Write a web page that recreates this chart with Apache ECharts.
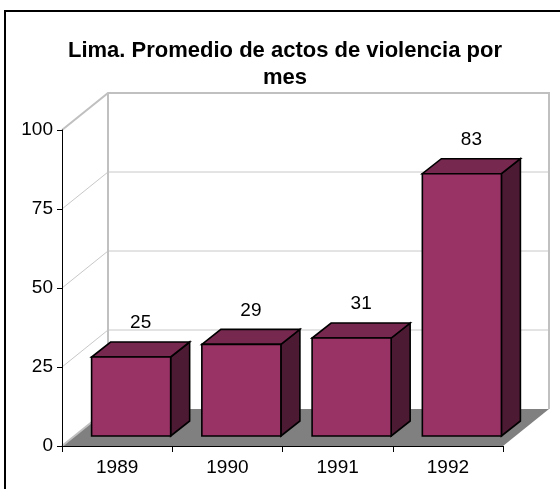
<!DOCTYPE html>
<html>
<head>
<meta charset="utf-8">
<title>Lima. Promedio de actos de violencia por mes</title>
<script src="https://cdn.jsdelivr.net/npm/echarts@6/dist/echarts.min.js"></script>
<style>
  html, body { margin: 0; padding: 0; background: #fff; }
  #chart { width: 560px; height: 489px; }
</style>
</head>
<body>
<div id="chart"></div>
<script>
  // datos
  var years = ['1989', '1990', '1991', '1992'];
  var promedio = [25, 29, 31, 83];
  var yTicks = [0, 25, 50, 75, 100];

  var FONT = "'Liberation Sans', Arial, sans-serif";

  // perspectiva (pared del fondo) y geometria de las barras
  var DEPTH_X = 46, DEPTH_Y = 37;
  var BAR_OFF_X = 14, BAR_OFF_Y = 10;
  var BAR_DX = 19, BAR_DY = 15;
  var BAR_RATIO = 0.717;

  var chart = echarts.init(document.getElementById('chart'));

  // paredes, piso y lineas de division
  function renderWalls(params, api) {
    var cs = params.coordSys;
    var x0 = cs.x, x1 = cs.x + cs.width;
    var yTop = cs.y, yBot = cs.y + cs.height;
    var children = [];
    // pared izquierda y del fondo (blancas)
    children.push({
      type: 'polygon',
      shape: { points: [[x0, yTop], [x0 + DEPTH_X, yTop - DEPTH_Y], [x0 + DEPTH_X, yBot - DEPTH_Y], [x0, yBot]] },
      style: { fill: '#fff' }
    });
    // lineas de division
    yTicks.forEach(function (v) {
      if (v === 0 || v === 100) return;
      var y = api.coord([0, v])[1];
      children.push({
        type: 'polyline',
        shape: { points: [[x0, y], [x0 + DEPTH_X, y - DEPTH_Y], [x1 + DEPTH_X, y - DEPTH_Y]] },
        style: { stroke: '#c8c8c8', lineWidth: 1, fill: null }
      });
    });
    // borde de las paredes
    children.push({
      type: 'polyline',
      shape: { points: [[x0, yTop], [x0 + DEPTH_X, yTop - DEPTH_Y], [x1 + DEPTH_X, yTop - DEPTH_Y], [x1 + DEPTH_X, yBot - DEPTH_Y]] },
      style: { stroke: '#c0c0c0', lineWidth: 2, fill: null }
    });
    children.push({
      type: 'line',
      shape: { x1: x0 + DEPTH_X, y1: yTop - DEPTH_Y, x2: x0 + DEPTH_X, y2: yBot - DEPTH_Y },
      style: { stroke: '#c0c0c0', lineWidth: 2 }
    });
    // piso
    children.push({
      type: 'polygon',
      shape: { points: [[x0, yBot], [x0 + DEPTH_X, yBot - DEPTH_Y], [x1 + DEPTH_X, yBot - DEPTH_Y], [x1, yBot]] },
      style: { fill: '#808080' }
    });
    children.push({
      type: 'line',
      shape: { x1: x0, y1: yBot, x2: x0 + DEPTH_X, y2: yBot - DEPTH_Y },
      style: { stroke: '#c0c0c0', lineWidth: 2 }
    });
    return { type: 'group', children: children };
  }

  // barras en 3D
  function renderBar(params, api) {
    var idx = api.value(0);
    var val = api.value(1);
    var top = api.coord([idx, val]);
    var base = api.coord([idx, 0]);
    var w = api.size([1, 0])[0] * BAR_RATIO;
    var xl = top[0] - w / 2 + BAR_OFF_X;
    var xr = top[0] + w / 2 + BAR_OFF_X;
    var yt = top[1] - BAR_OFF_Y;
    var yb = base[1] - BAR_OFF_Y;
    var edge = { stroke: '#000', lineWidth: 1.6, lineJoin: 'miter' };
    return {
      type: 'group',
      children: [
        {
          type: 'polygon',
          shape: { points: [[xr, yt], [xr + BAR_DX, yt - BAR_DY], [xr + BAR_DX, yb - BAR_DY], [xr, yb]] },
          style: Object.assign({ fill: '#4d1a33' }, edge)
        },
        {
          type: 'polygon',
          shape: { points: [[xl, yt], [xr, yt], [xr + BAR_DX, yt - BAR_DY], [xl + BAR_DX, yt - BAR_DY]] },
          style: Object.assign({ fill: '#77284f' }, edge)
        },
        {
          type: 'rect',
          shape: { x: xl, y: yt, width: xr - xl, height: yb - yt },
          style: Object.assign({ fill: '#993366' }, edge)
        },
        {
          type: 'text',
          style: {
            text: String(val),
            x: (xl + xr) / 2 + BAR_DX / 2,
            y: yt - BAR_DY - 19,
            fill: '#000',
            font: '19px ' + FONT,
            align: 'center',
            verticalAlign: 'middle',
            textAlign: 'center',
            textVerticalAlign: 'middle'
          }
        }
      ]
    };
  }

  var option = {
    backgroundColor: '#fff',
    animation: false,
    title: {
      text: 'Lima. Promedio de actos de violencia por\nmes',
      left: 280,
      top: 32,
      textAlign: 'center',
      textStyle: {
        fontSize: 22,
        fontWeight: 'bold',
        lineHeight: 27,
        color: '#000',
        fontFamily: FONT
      }
    },
    graphic: [{
      type: 'rect',
      shape: { x: 5, y: 11, width: 700, height: 700 },
      style: { fill: null, stroke: '#000', lineWidth: 2 },
      z: 100
    }],
    grid: { left: 62, right: 57, top: 130, bottom: 43, containLabel: false, outerBoundsMode: 'none' },
    xAxis: {
      type: 'category',
      data: years,
      z: 10,
      axisLine: { lineStyle: { color: '#000', width: 1 } },
      axisTick: { show: true, length: 6, alignWithLabel: false, lineStyle: { color: '#000' } },
      axisLabel: { fontSize: 19, color: '#000', fontFamily: FONT, margin: 12 },
      splitLine: { show: false }
    },
    yAxis: {
      type: 'value',
      min: 0,
      max: 100,
      interval: 25,
      z: 10,
      axisLine: { show: true, lineStyle: { color: '#000', width: 1 } },
      axisTick: { show: true, length: 5, lineStyle: { color: '#000' } },
      axisLabel: { fontSize: 19, color: '#000', fontFamily: FONT, margin: 9 },
      splitLine: { show: false }
    },
    series: [
      {
        type: 'custom',
        name: 'paredes',
        silent: true,
        z: 1,
        clip: false,
        renderItem: renderWalls,
        data: [[0, 0]]
      },
      {
        type: 'custom',
        name: 'Promedio',
        z: 3,
        clip: false,
        renderItem: renderBar,
        encode: { x: 0, y: 1 },
        data: promedio.map(function (v, i) { return [i, v]; })
      }
    ]
  };

  chart.setOption(option);

  window.addEventListener('resize', function () {
    chart.resize();
  });
</script>
</body>
</html>
